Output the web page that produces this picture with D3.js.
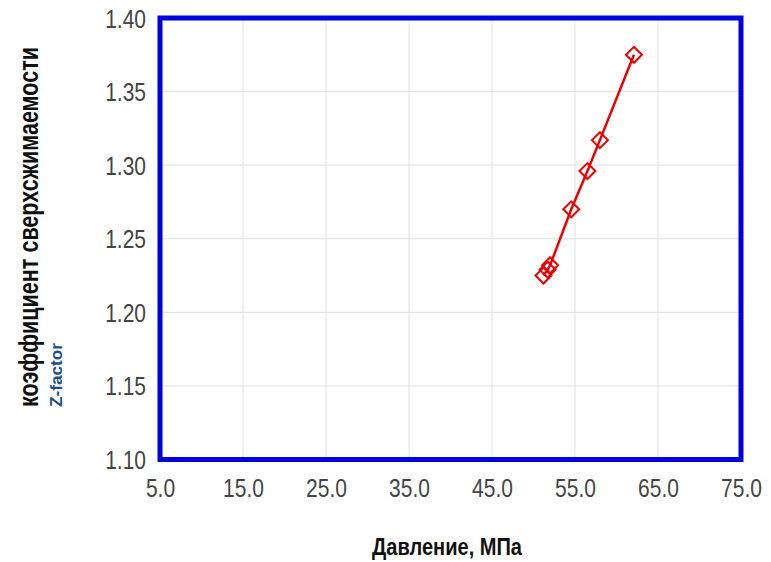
<!DOCTYPE html>
<html>
<head>
<meta charset="utf-8">
<script src="https://cdn.jsdelivr.net/npm/d3@7"></script>
<style>
  html, body { margin: 0; padding: 0; background: #fff; }
  svg { display: block; }
</style>
</head>
<body>
<svg id="chart" width="771" height="562"></svg>
<script>
// Pressure (MPa) vs compressibility factor
const pressure = [51.2, 51.7, 52.0, 54.55, 56.5, 58.0, 62.1];
const zFactor  = [1.225, 1.229, 1.232, 1.270, 1.296, 1.317, 1.375];

const xTicks = [5, 15, 25, 35, 45, 55, 65, 75];
const yTicks = [1.10, 1.15, 1.20, 1.25, 1.30, 1.35, 1.40];

const xTitle = "Давление, МПа";
const yTitle = "коэффициент сверхсжимаемости";
const ySubTitle = "Z-factor";

const svg = d3.select("#chart");
const plot = { left: 160, right: 741, top: 18, bottom: 459.5 };

const x = d3.scaleLinear().domain([5, 75]).range([plot.left, plot.right]);
const y = d3.scaleLinear().domain([1.10, 1.40]).range([plot.bottom, plot.top]);

const font = "'Liberation Sans', Arial, sans-serif";
const narrow = "scale(0.84,1)";

// grid
svg.append("g")
  .selectAll("line")
  .data(xTicks.slice(1, -1))
  .join("line")
  .attr("x1", d => x(d)).attr("x2", d => x(d))
  .attr("y1", plot.top).attr("y2", plot.bottom)
  .attr("stroke", "#e0e0e0").attr("stroke-width", 1);

svg.append("g")
  .selectAll("line")
  .data(yTicks.slice(1, -1))
  .join("line")
  .attr("x1", plot.left).attr("x2", plot.right)
  .attr("y1", d => y(d)).attr("y2", d => y(d))
  .attr("stroke", "#e0e0e0").attr("stroke-width", 1);

// axes (labels only, frame drawn separately)
const xAxis = d3.axisBottom(x).tickValues(xTicks).tickFormat(d3.format(".1f")).tickSize(0).tickPadding(0);
const gx = svg.append("g").attr("transform", `translate(0,${plot.bottom})`).call(xAxis);
gx.select(".domain").remove();
gx.selectAll("text")
  .attr("dy", null).attr("y", 37.5)
  .attr("transform", narrow)
  .attr("font-family", font).attr("font-size", 25).attr("fill", "#444");

const yAxis = d3.axisLeft(y).tickValues(yTicks).tickFormat(d3.format(".2f")).tickSize(0).tickPadding(0);
const gy = svg.append("g").attr("transform", `translate(146,0)`).call(yAxis);
gy.select(".domain").remove();
gy.selectAll("text")
  .attr("x", 0).attr("dy", "0.36em")
  .attr("transform", narrow)
  .attr("font-family", font).attr("font-size", 25).attr("fill", "#444");

// frame
svg.append("rect")
  .attr("x", plot.left).attr("y", plot.top)
  .attr("width", plot.right - plot.left).attr("height", plot.bottom - plot.top)
  .attr("fill", "none").attr("stroke", "#0000dc").attr("stroke-width", 5);

// series
const pts = pressure.map((p, i) => [p, zFactor[i]]);
svg.append("path")
  .datum(pts)
  .attr("fill", "none").attr("stroke", "#ee0000").attr("stroke-width", 2.5)
  .attr("d", d3.line().x(d => x(d[0])).y(d => y(d[1])));

const diamond = d3.symbol().type(d3.symbolDiamond2).size(162);
svg.append("g")
  .selectAll("path")
  .data(pts)
  .join("path")
  .attr("transform", d => `translate(${x(d[0])},${y(d[1])})`)
  .attr("d", diamond)
  .attr("fill", "none").attr("stroke", "#ee0000").attr("stroke-width", 2);

// titles
svg.append("text")
  .attr("x", 372).attr("y", 555)
  .attr("textLength", 150).attr("lengthAdjust", "spacingAndGlyphs")
  .attr("font-family", font).attr("font-weight", "bold").attr("font-size", 24)
  .attr("fill", "#111")
  .text(xTitle);

svg.append("text")
  .attr("transform", "translate(38,407) rotate(-90)")
  .attr("textLength", 360).attr("lengthAdjust", "spacingAndGlyphs")
  .attr("font-family", font).attr("font-weight", "bold").attr("font-size", 28)
  .attr("fill", "#111")
  .text(yTitle);

svg.append("text")
  .attr("transform", "translate(62,407) rotate(-90)")
  .attr("textLength", 64).attr("lengthAdjust", "spacingAndGlyphs")
  .attr("font-family", font).attr("font-weight", "bold").attr("font-size", 17)
  .attr("fill", "#1f4e8c")
  .text(ySubTitle);
</script>
</body>
</html>
